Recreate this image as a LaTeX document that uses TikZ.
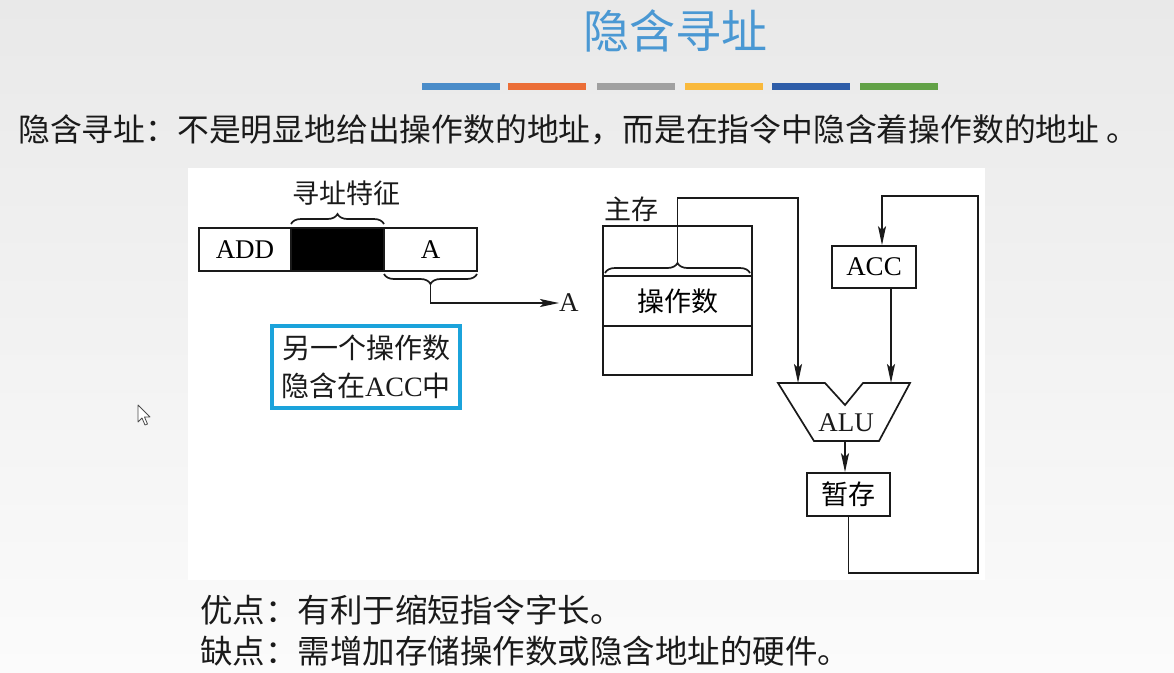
\documentclass[tikz,border=0pt]{standalone}
\usepackage{fontspec}
\setmainfont{Liberation Serif}
\newfontfamily\cjk{Noto Sans CJK SC}
\usetikzlibrary{arrows.meta,decorations.pathreplacing}

\definecolor{bgtop}{HTML}{E9E9E9}
\definecolor{bgbot}{HTML}{FBFBFB}
\definecolor{titleblue}{HTML}{4A98D3}
\definecolor{barA}{HTML}{4A8CC9}
\definecolor{barB}{HTML}{EB6E37}
\definecolor{barC}{HTML}{A0A0A0}
\definecolor{barD}{HTML}{F9B93C}
\definecolor{barE}{HTML}{2E5DA8}
\definecolor{barF}{HTML}{62A247}
\definecolor{noteblue}{HTML}{1BA3DB}
\definecolor{ink}{HTML}{1A1A1A}

\newcommand\diagfont{\fontsize{27}{32}\selectfont}

\begin{document}
\begin{tikzpicture}[x=1pt,y=-1pt,
  ln/.style={line width=1.7pt, draw=ink},
  cell/.style={draw=ink, line width=1.7pt, inner sep=0pt, font=\diagfont},
  arr/.style={-{Stealth[length=19pt,width=8pt,inset=4pt]}},
  brc/.style={ln, decorate, decoration={brace, amplitude=10pt}},
  plain/.style={inner sep=0pt, font=\diagfont, text=ink}]

\useasboundingbox (0,0) rectangle (1174,672);
\shade[top color=bgtop, bottom color=bgbot] (0,0) rectangle (1174,672);

% heading and coloured rule
\node[font=\cjk\fontsize{46}{50}\selectfont, text=titleblue] (title) at (675,31) {隐含寻址};
\foreach \x/\c in {422/barA, 508/barB, 597/barC, 685/barD, 772/barE, 860/barF}
  \fill[\c] (\x,83) rectangle ++(78,7);

% definition line
\node[anchor=west, inner sep=0pt, text=ink, font=\cjk\fontsize{31.8}{36}\selectfont] (intro) at (18,130)
  {隐含寻址：不是明显地给出操作数的地址，而是在指令中隐含着操作数的地址 。};

% white panel holding the figure
\fill[white] (188,168) rectangle (985,580);

% instruction word
\node[cell, minimum width=92, minimum height=43] (add) at (245,249.5) {ADD};
\node[cell, minimum width=93, minimum height=43, fill=black] (blk) at (337.5,249.5) {};
\node[cell, minimum width=93, minimum height=43] (fa) at (430.5,249.5) {A};
\node[plain, font=\cjk\diagfont] (feat) at (346,193) {寻址特征};
\draw[brc] (291,224) -- (384,224);
\draw[brc] (477,274) -- (384,274);
\coordinate (ftip) at (430.5,284);
\node[plain, anchor=west] (aval) at (559,303) {A};
\draw[ln, arr] (ftip) -- (ftip |- aval) -- (aval.west);

% note box
\node[draw=noteblue, line width=4pt, minimum width=188, minimum height=82, inner sep=0pt,
      align=center, text=ink, font=\fontsize{28}{38}\selectfont] (note) at (366,367)
  {{\cjk 另一个操作数}\\{\cjk 隐含在}ACC{\cjk 中}};

% main memory
\node[plain, font=\cjk\diagfont] (mlabel) at (631,209) {主存};
\node[cell, minimum width=149, minimum height=50] (mtop) at (677.5,251) {};
\node[cell, minimum width=149, minimum height=50, font=\cjk\diagfont] (mopd) at (677.5,301) {操作数};
\node[cell, minimum width=149, minimum height=49] (mbot) at (677.5,350.5) {};
\draw[brc] (605,273) -- (750,273);
\coordinate (mtip) at (677.5,263);

% ALU
\coordinate (a1) at (778,383);
\coordinate (a2) at (825,383);
\coordinate (a3) at (845,405);
\coordinate (a4) at (863,383);
\coordinate (a5) at (910,383);
\coordinate (a6) at (879,441);
\coordinate (a7) at (814,441);
\draw[ln, line join=miter] (a1) -- (a2) -- (a3) -- (a4) -- (a5) -- (a6) -- (a7) -- cycle;
\node[plain] (alu) at (846,423) {ALU};
\coordinate (alul) at (798,383);
\coordinate (alur) at (891,383);
\coordinate (aluo) at (845,441);

% accumulator and temporary register
\node[cell, minimum width=84, minimum height=42] (acc) at (874,267) {ACC};
\node[cell, minimum width=83, minimum height=43, font=\cjk\diagfont] (tmp) at (848.5,494.5) {暂存};

% data paths
\coordinate (mturn) at (798,198);
\draw[ln, arr] (mtip) -- (mtip |- mturn) -- (mturn) -- (alul);
\draw[ln, arr] (acc.south -| alur) -- (alur);
\draw[ln, arr] (aluo) -- (aluo |- tmp.north);
\coordinate (fb1) at (978,573);
\coordinate (fb2) at (978,196);
\coordinate (accin) at ([xshift=8pt]acc.north);
\draw[ln, arr] (tmp.south) -- (tmp.south |- fb1) -- (fb1) -- (fb2) -- (fb2 -| accin) -- (accin);

% pros and cons
\node[anchor=west, inner sep=0pt, text=ink, font=\cjk\fontsize{32.5}{36}\selectfont] (pro) at (200,610)
  {优点：有利于缩短指令字长。};
\node[anchor=west, inner sep=0pt, text=ink, font=\cjk\fontsize{32.5}{36}\selectfont] (con) at (200,651)
  {缺点：需增加存储操作数或隐含地址的硬件。};

% pointer
\draw[fill=white, draw=black!70, line width=0.8pt, line join=round]
  (138,405) -- ++(0,17) -- ++(4,-4) -- ++(3,7) -- ++(2.5,-1) -- ++(-3,-7) -- ++(5.5,0) -- cycle;
\end{tikzpicture}
\end{document}
